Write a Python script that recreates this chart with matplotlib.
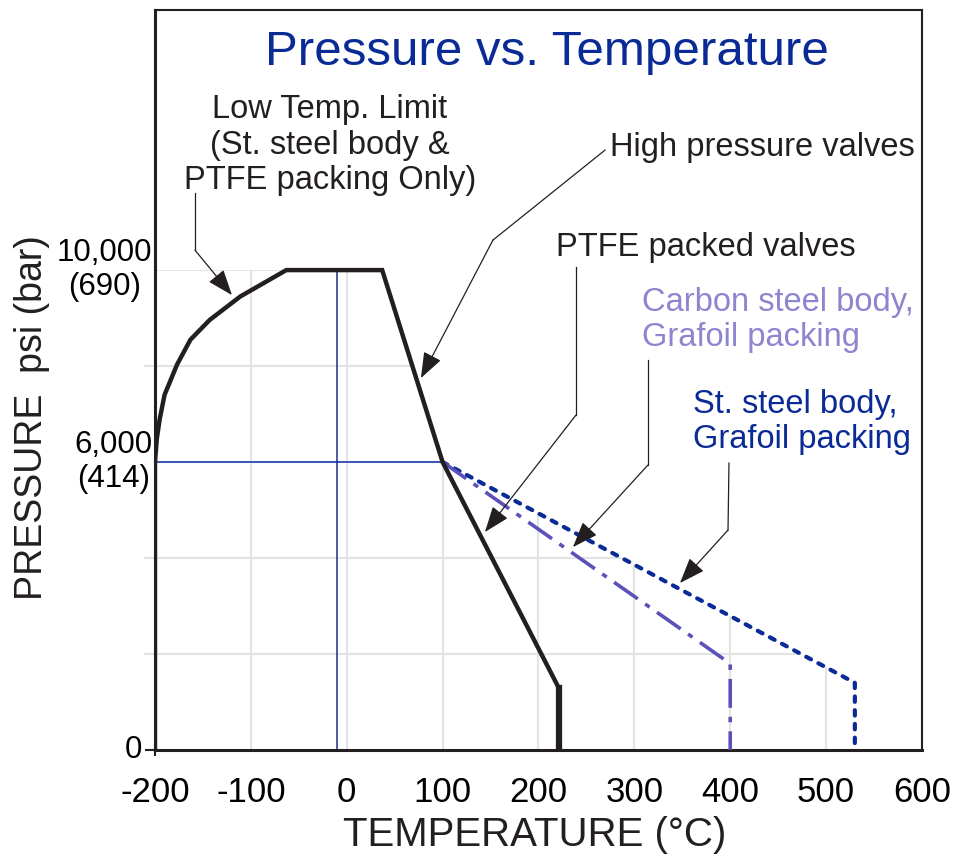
import matplotlib
matplotlib.use("Agg")
import matplotlib.pyplot as plt
from matplotlib.patches import Polygon

plt.rcParams['font.family'] = ['Liberation Sans', 'DejaVu Sans']

# ---- data (temperature in degC, pressure in psi) ----
high_temp = [-200, -200, -198, -195, -190, -177, -163, -143, -111, -63, 37, 100, 221, 221]
high_psi = [0, 6000, 6500, 6900, 7400, 8030, 8550, 8960, 9450, 10000, 10000, 6000, 1300, 0]

carbon_temp = [100, 400, 400]
carbon_psi = [6000, 1800, 0]

ss_temp = [100, 530, 530]
ss_psi = [6000, 1400, 0]

ref_temp = -10          # blue vertical reference
ref_psi = 6000          # blue horizontal reference

xticks = [-200, -100, 0, 100, 200, 300, 400, 500, 600]
xtick_labels = ['-200', '-100', '0', '100', '200', '300', '400', '500', '600']
yticks = [0, 6000, 10000]
ytick_labels = ['0', '6,000\n(414)', '10,000\n(690)']
grid_psi = [2000, 4000, 6000, 8000, 10000]

black = '#231f20'
navy = '#0a2a95'
purple = '#5a52b8'
purple_txt = '#8d85cf'
gridc = '#e3e3e3'

fig = plt.figure(figsize=(9.56, 8.6), dpi=100)
ax = fig.add_axes([0.1621, 0.1279, 0.8023, 0.8605])
ax.set_xlim(-200, 600)
ax.set_ylim(0, 15420)

# grid only under the rating envelope
env = Polygon([(-200, 0), (-200, 10000), (37, 10000), (100, 6000), (530, 1400), (530, 0)],
              closed=True, transform=ax.transData)
vl = ax.vlines(xticks[1:-1], 0, 10000, colors=gridc, lw=1.5, zorder=1)
hl = ax.hlines(grid_psi, -200, 600, colors=gridc, lw=1.5, zorder=1)
vl.set_clip_path(env)
hl.set_clip_path(env)

# reference lines
ax.plot([ref_temp, ref_temp], [0, 10000], color='#1c2d8a', lw=1.1, zorder=2)
ax.plot([-200, 100], [ref_psi, ref_psi], color='#0b30a8', lw=1.1, zorder=2)

# curves
ax.plot(ss_temp, ss_psi, color=navy, lw=3.0, dashes=(1.3, 2.0),
        dash_capstyle='round', zorder=3)
ax.plot(carbon_temp, carbon_psi, color=purple, lw=2.6, dashes=(8, 2.5, 1.5, 2.5), zorder=3)
ax.plot(high_temp, high_psi, color=black, lw=3.2, solid_joinstyle='miter', zorder=4)
ax.plot(high_temp[-2:], high_psi[-2:], color=black, lw=4.5, zorder=4)

# axes styling
ax.set_xticks(xticks)
ax.set_xticklabels(xtick_labels, fontsize=25)
ax.set_yticks(yticks)
ax.set_yticklabels(ytick_labels, fontsize=22.5, va='center', linespacing=1.15,
                   multialignment='center')
ax.set_yticks([2000, 4000, 8000, 10000], minor=True)
ax.tick_params(axis='y', which='minor', length=8, width=1.5, color=gridc)
ax.tick_params(axis='y', which='major', length=7, width=1.5, color=black, pad=2)
ax.tick_params(axis='x', which='major', length=8, width=1.5, direction='inout',
               color=black, pad=15)
for t in ax.yaxis.get_major_ticks()[1:]:
    t.tick1line.set_visible(False)
    t.set_pad(-5)
for t in ax.xaxis.get_major_ticks()[1:]:
    t.tick1line.set_visible(False)
for s in ax.spines.values():
    s.set_color(black)
    s.set_linewidth(1.5)
ax.spines['bottom'].set_linewidth(2.2)
ax.spines['left'].set_linewidth(2.2)

ax.set_xlabel('TEMPERATURE (°C)', fontsize=29, color=black, va='center')
ax.xaxis.set_label_coords(0.4955, -0.115)
ax.set_ylabel('PRESSURE  psi (bar)', fontsize=27, color=black, va='center')
ax.yaxis.set_label_coords(-0.160, 0.449)

ax.text(0.511, 0.943, 'Pressure vs. Temperature', transform=ax.transAxes,
        ha='center', va='center', fontsize=35.5, color=navy)

# annotations with leader lines
def leader(pts, color=black):
    xs = [p[0] for p in pts[:-1]]
    ys = [p[1] for p in pts[:-1]]
    if len(xs) > 1:
        ax.plot(xs, ys, color=color, lw=0.9, zorder=5)
    ax.annotate('', xy=pts[-1], xytext=pts[-2],
                arrowprops=dict(arrowstyle='-|>,head_length=0.8,head_width=0.3',
                                mutation_scale=20, color=color, lw=0.9,
                                shrinkA=0, shrinkB=0), zorder=5)

fs = 23.5
ax.text(-17.5, 12604, 'Low Temp. Limit\n(St. steel body &\nPTFE packing Only)',
        ha='center', va='center', fontsize=fs, color=black, linespacing=1.2)
leader([(-158.3, 11604), (-158.3, 10417), (-119.7, 9479)])

ax.text(274.6, 12563, 'High pressure valves', ha='left', va='center',
        fontsize=fs, color=black)
leader([(269.4, 12500), (152.5, 10625), (77.4, 7750)])

ax.text(218.3, 10479, 'PTFE packed valves', ha='left', va='center',
        fontsize=fs, color=black)
leader([(239.1, 10063), (239.1, 6979), (144.2, 4542)])

ax.text(308.0, 8958, 'Carbon steel body,\nGrafoil packing', ha='left', va='center',
        fontsize=fs, color=purple_txt, linespacing=1.2)
leader([(314.2, 8125), (314.2, 5938), (236.0, 4229)])

ax.text(361.2, 6833, 'St. steel body,\nGrafoil packing', ha='left', va='center',
        fontsize=fs, color=navy, linespacing=1.2)
leader([(398.7, 5979), (397.7, 4583), (347.6, 3479)])

fig.savefig('out.png', dpi=100)
